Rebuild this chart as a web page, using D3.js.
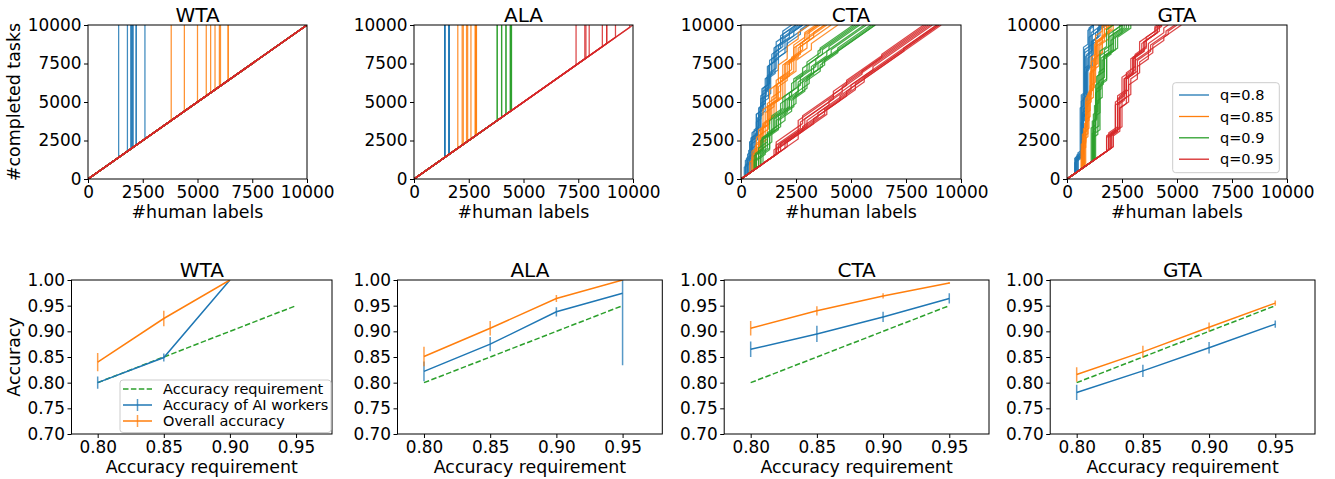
<!DOCTYPE html>
<html><head><meta charset="utf-8">
<script src="https://cdn.jsdelivr.net/npm/d3@7"></script>
<style>body{margin:0;background:#fff}svg{display:block;font-family:"DejaVu Sans",sans-serif}</style>
</head><body><svg id="c" width="1335" height="479"></svg>
<script>
// ---------------- DATA ----------------
const panelTitles = ["WTA", "ALA", "CTA", "GTA"];
const qLabels = ["q=0.8", "q=0.85", "q=0.9", "q=0.95"];
const seriesColors = ["#1f77b4", "#ff7f0e", "#2ca02c", "#d62728"];
const topTicks = [0, 2500, 5000, 7500, 10000];
const botXTicks = [0.80, 0.85, 0.90, 0.95];
const botYTicks = [0.70, 0.75, 0.80, 0.85, 0.90, 0.95, 1.00];

// WTA / ALA: #human labels at which the AI workers take over all remaining tasks (10000 = never)
const wtaSwitchBlue   = [1400, 1800, 1950, 2000, 2000, 2050, 2050, 2200, 2200, 2600];
const wtaSwitchOrange = [3800, 4400, 5000, 5400, 5600, 5800, 6000, 6050, 6400, 6400];
const wtaSwitchGreen  = [10000, 10000, 10000, 10000, 10000, 10000, 10000, 10000, 10000, 10000];
const wtaSwitchRed    = [10000, 10000, 10000, 10000, 10000, 10000, 10000, 10000, 10000, 10000];
const alaSwitchBlue   = [1400, 1400, 1400, 1400, 1400, 1400, 1600, 1600, 1600, 1600];
const alaSwitchOrange = [2000, 2200, 2250, 2400, 2450, 2600, 2800, 2800, 2850, 2850];
const alaSwitchGreen  = [3800, 3800, 4000, 4000, 4200, 4200, 4400, 4400, 4450, 4450];
const alaSwitchRed    = [7400, 7800, 7850, 8000, 8600, 8800, 8800, 9200, 9850, 10000];

// CTA / GTA: each run = list of [#human labels, tasks completed by AI in one jump]
const ctaBlue = [
  [[200,1000],[450,1200],[700,1300],[950,1400],[1200,1200],[1500,900],[1800,500]],
  [[300,1300],[500,900],[800,1600],[1100,1100],[1300,1200],[1700,800],[2000,300]],
  [[400,2000],[700,1000],[900,1500],[1200,1000],[1500,1200],[1900,500]],
  [[250,1100],[600,1500],[850,1200],[1100,1600],[1400,1000],[1600,900],[1900,400]],
  [[350,1500],[650,800],[900,1700],[1250,1300],[1550,900],[2000,700],[2400,300]],
  [[200,700],[500,1800],[800,1000],[1000,1400],[1300,1500],[1700,600],[2200,400]],
  [[450,1800],[750,1400],[1000,1000],[1350,1200],[1700,800],[2100,500],[2700,300]],
  [[300,900],[550,1600],[900,1800],[1150,1100],[1400,1300],[1800,600]],
  [[500,2100],[800,1200],[1100,1300],[1300,1000],[1600,900],[2100,400]],
  [[150,600],[400,1400],[700,1500],[1000,1200],[1250,1400],[1550,900],[1900,500]]
];
const ctaOrange = [
  [[600,1200],[900,1100],[1200,1200],[1600,1000],[2000,900],[2500,700],[3000,300]],
  [[500,900],[800,1500],[1100,800],[1500,1300],[1900,1000],[2400,600],[2900,400]],
  [[700,1600],[1000,900],[1400,1400],[1800,900],[2300,800],[2800,500]],
  [[400,700],[700,1300],[1000,1500],[1300,1000],[1700,1200],[2100,800],[2600,400]],
  [[800,1400],[1200,1200],[1600,800],[2000,1100],[2500,700],[3200,400]],
  [[600,1000],[950,1300],[1300,1100],[1700,900],[2100,1000],[2600,600],[3100,300]],
  [[500,1300],[900,1000],[1200,1400],[1600,1100],[2000,700],[2400,800],[2900,300]],
  [[700,1000],[1100,1600],[1500,800],[1900,1200],[2400,900],[3000,400]],
  [[550,1100],[850,900],[1250,1500],[1650,1000],[2200,900],[2700,500],[3300,300]],
  [[650,1500],[1000,1100],[1350,900],[1800,1200],[2200,800],[2700,600],[3100,400]]
];
const ctaGreen = [
  [[700,900],[1000,700],[1500,800],[2000,700],[2600,600],[3200,400],[3900,300]],
  [[600,600],[900,1000],[1300,900],[1800,600],[2300,800],[2800,500],[3500,400]],
  [[800,1200],[1200,600],[1600,700],[2200,900],[2700,500],[3400,500],[4000,200]],
  [[900,700],[1300,900],[1700,500],[2300,700],[2900,600],[3600,400],[4400,300]],
  [[600,900],[1000,800],[1400,1000],[1900,700],[2400,700],[3000,500],[3600,300]],
  [[1000,1000],[1400,800],[2000,600],[2500,700],[3100,500],[3800,300]],
  [[700,500],[1100,1100],[1600,600],[2100,800],[2600,500],[3300,500],[4100,300]],
  [[800,800],[1200,700],[1700,900],[2200,500],[2800,700],[3500,400]],
  [[650,1000],[950,700],[1500,900],[2000,800],[2500,600],[3100,400],[3700,300]],
  [[900,600],[1300,1000],[1800,700],[2400,600],[3000,700],[3700,300]]
];
const ctaRed = [
  [[1600,800],[2800,500],[4800,300]],
  [[1600,600],[2700,400],[4200,300],[5500,200]],
  [[1700,500],[2900,500],[4600,400]],
  [[1500,400],[3000,400],[4000,300],[6000,200]],
  [[1800,500],[3500,300],[5000,300]],
  [[1600,300],[2800,300],[4500,300],[7400,200]],
  [[2000,400],[3800,300],[5600,300]],
  [[1700,300],[3300,300],[4800,300]],
  [[2600,1200],[4200,300],[6400,200]],
  [[2100,300],[3900,300],[5200,400]]
];
const gtaBlue = [
  [[400,900],[650,3500],[800,3200],[1000,1200]],
  [[450,800],[700,2800],[850,2500],[1000,1500],[1300,600]],
  [[400,1000],[600,3000],[750,3800],[950,900],[1200,400]],
  [[350,700],[700,2600],[900,3000],[1100,1500],[1400,600]],
  [[500,1200],[750,3300],[900,2700],[1150,1000],[1450,400]],
  [[400,800],[650,2200],[800,3400],[1000,1800],[1200,700]],
  [[450,1100],[700,3600],[850,2400],[1100,1300],[1500,400]],
  [[400,900],[750,2900],[950,3100],[1200,900],[1500,500]],
  [[500,800],[650,4000],[800,2600],[1050,1400]],
  [[350,1000],[700,2400],[900,2800],[1150,1600],[1400,500]]
];
const gtaOrange = [
  [[750,2500],[900,2000],[1100,2300],[1300,1200],[1600,700]],
  [[700,1500],[850,2600],[1050,1800],[1250,1600],[1600,800],[1900,300]],
  [[800,2800],[1000,1800],[1200,2000],[1500,1000],[1900,500]],
  [[650,1200],[850,2200],[1050,2400],[1300,1500],[1700,700],[2100,200]],
  [[750,2000],[950,2600],[1150,1500],[1400,1400],[1800,600]],
  [[700,2200],[900,1700],[1100,2600],[1350,1100],[1700,600],[2200,200]],
  [[850,3000],[1050,2000],[1300,1600],[1600,1100],[2000,300]],
  [[700,1800],[950,2300],[1200,1800],[1450,1300],[1900,700]],
  [[800,2300],[1000,2400],[1250,1900],[1600,1000],[2100,300]],
  [[650,1600],[850,2800],[1100,1700],[1350,1500],[1800,800],[2300,200]]
];
const gtaGreen = [
  [[1200,2500],[1350,2800],[1500,1500],[1800,1100],[2200,600],[2600,300]],
  [[1150,1800],[1300,2500],[1550,2000],[1900,1000],[2400,700],[2900,300]],
  [[1250,3500],[1450,2000],[1700,1200],[2100,800],[2600,500]],
  [[1200,1500],[1400,2200],[1600,2400],[2000,900],[2500,600],[3000,300]],
  [[1100,2200],[1300,2600],[1500,1700],[1900,1000],[2400,500],[3000,200]],
  [[1300,2800],[1500,1800],[1800,1600],[2200,800],[2800,400]],
  [[1200,2000],[1450,2900],[1700,1300],[2100,900],[2700,500],[3200,200]],
  [[1150,2600],[1350,1900],[1650,1800],[2000,1000],[2500,600],[3000,300]],
  [[1250,1700],[1500,3000],[1800,1500],[2300,700],[2900,400],[3300,200]],
  [[1200,3000],[1400,2300],[1700,1000],[2100,900],[2600,500],[3100,300]]
];
const gtaRed = [
  [[1900,900],[2300,2200],[2700,900],[3100,900],[3600,500],[4100,300]],
  [[2000,800],[2300,1800],[2700,1200],[3000,1000],[3500,600],[4200,300]],
  [[1800,1000],[2200,1600],[2500,1500],[2900,800],[3300,700],[4000,300]],
  [[2100,700],[2400,1500],[2800,1100],[3200,800],[3700,500],[4400,200]],
  [[1900,1100],[2300,1400],[2600,1400],[3000,900],[3500,600],[4100,400]],
  [[2000,1000],[2400,2000],[2800,800],[3200,700],[3800,400],[4500,200]],
  [[1800,900],[2200,1900],[2600,1100],[3000,1000],[3400,500],[4000,400]],
  [[2100,900],[2500,1700],[2900,1000],[3300,700],[3900,500],[4600,200]],
  [[1900,800],[2300,2100],[2700,1300],[3100,800],[3600,600],[4300,300]],
  [[2000,900],[2400,1300],[2700,1600],[3100,800],[3700,500],[4400,300]]
];

// Bottom row: accuracy vs requirement
const accRequirement = [0.80, 0.85, 0.90, 0.95];
const wtaAI = [0.800, 0.849, 1.000],        wtaAIErr = [0.012, 0.008, 0];
const wtaAll = [0.840, 0.925, 1.000],       wtaAllErr = [0.018, 0.015, 0];
const alaAI = [0.822, 0.875, 0.938, 0.974], alaAIErr = [0.019, 0.014, 0.009, 0.140];
const alaAll = [0.851, 0.906, 0.964, 1.000],alaAllErr = [0.019, 0.014, 0.007, 0];
const ctaAI = [0.865, 0.895, 0.928, 0.964], ctaAIErr = [0.015, 0.016, 0.010, 0.010];
const ctaAll = [0.906, 0.940, 0.969, 0.994],ctaAllErr = [0.014, 0.009, 0.005, 0.002];
const gtaAI = [0.781, 0.823, 0.868, 0.914], gtaAIErr = [0.015, 0.012, 0.011, 0.007];
const gtaAll = [0.816, 0.860, 0.908, 0.955],gtaAllErr = [0.014, 0.012, 0.009, 0.005];
const botLegendLabels = ["Accuracy requirement", "Accuracy of AI workers", "Overall accuracy"];

// ---------------- BUILD ----------------
const toRuns = sw => sw.map(x0 => x0 >= 10000 ? [] : [[x0, 10000 - x0]]);
const topRuns = [
  [toRuns(wtaSwitchBlue), toRuns(wtaSwitchOrange), toRuns(wtaSwitchGreen), toRuns(wtaSwitchRed)],
  [toRuns(alaSwitchBlue), toRuns(alaSwitchOrange), toRuns(alaSwitchGreen), toRuns(alaSwitchRed)],
  [ctaBlue, ctaOrange, ctaGreen, ctaRed],
  [gtaBlue, gtaOrange, gtaGreen, gtaRed]
];
const botData = [
  {ai: wtaAI, aiErr: wtaAIErr, all: wtaAll, allErr: wtaAllErr},
  {ai: alaAI, aiErr: alaAIErr, all: alaAll, allErr: alaAllErr},
  {ai: ctaAI, aiErr: ctaAIErr, all: ctaAll, allErr: ctaAllErr},
  {ai: gtaAI, aiErr: gtaAIErr, all: gtaAll, allErr: gtaAllErr}
];

function runPath(jumps) {
  let cx = 0, cy = 0; const pts = [[0, 0]];
  for (const [x, dy] of jumps) {
    if (cy >= 10000) break;
    cy += x - cx; cx = x; pts.push([cx, cy]);
    cy += dy; pts.push([cx, cy]);
  }
  if (cy < 10000) { cx += 10000 - cy; cy = 10000; pts.push([cx, cy]); }
  return pts;
}

const FS = 16.9, LFS = 17.4;
const svg = d3.select("#c");
svg.append("rect").attr("width", 1335).attr("height", 479).attr("fill", "#fff");
const defs = svg.append("defs");

function styleAxis(g) {
  g.attr("font-family", "DejaVu Sans").attr("font-size", FS);
  g.select(".domain").remove();
  g.selectAll(".tick line").attr("stroke", "#000").attr("stroke-width", 1);
  g.selectAll(".tick text").attr("fill", "#000").style("font-size", FS + "px")
    .style("font-family", '"DejaVu Sans", sans-serif');
}

// ---- top row ----
const topBoxes = [{l: 88, r: 307}, {l: 414, r: 633}, {l: 741, r: 961}, {l: 1067, r: 1287}];
const TT = 25, TB = 179;
topBoxes.forEach((b, i) => {
  const x = d3.scaleLinear().domain([0, 10000]).range([b.l, b.r]);
  const y = d3.scaleLinear().domain([0, 10000]).range([TB, TT]);
  defs.append("clipPath").attr("id", "ct" + i).append("rect")
    .attr("x", b.l).attr("y", TT).attr("width", b.r - b.l).attr("height", TB - TT);
  const line = d3.line().x(d => x(d[0])).y(d => y(d[1]));
  const g = svg.append("g").attr("clip-path", `url(#ct${i})`);
  topRuns[i].forEach((runs, c) => {
    runs.forEach(run => {
      g.append("path").attr("d", line(runPath(run))).attr("fill", "none")
        .attr("stroke", seriesColors[c]).attr("stroke-width", 1.25).attr("stroke-opacity", 0.85);
    });
  });
  svg.append("rect").attr("x", b.l).attr("y", TT).attr("width", b.r - b.l).attr("height", TB - TT)
    .attr("fill", "none").attr("stroke", "#000").attr("stroke-width", 1);
  svg.append("g").attr("transform", `translate(0,${TB})`)
    .call(d3.axisBottom(x).tickValues(topTicks).tickFormat(d3.format("d")).tickSize(4).tickPadding(3.5).tickSizeOuter(0))
    .call(styleAxis);
  svg.append("g").attr("transform", `translate(${b.l},0)`)
    .call(d3.axisLeft(y).tickValues(topTicks).tickFormat(d3.format("d")).tickSize(4).tickPadding(2.5).tickSizeOuter(0))
    .call(styleAxis);
  svg.append("text").attr("x", (b.l + b.r) / 2).attr("y", 21.5).attr("text-anchor", "middle")
    .style("font-size", "20px").attr("fill", "#000").text(panelTitles[i]);
  svg.append("text").attr("x", (b.l + b.r) / 2).attr("y", 217.5).attr("text-anchor", "middle")
    .style("font-size", LFS + "px").attr("fill", "#000").text("#human labels");
});
svg.append("text").attr("transform", `translate(20,${(TT + TB) / 2}) rotate(-90)`).attr("text-anchor", "middle")
  .style("font-size", LFS + "px").attr("fill", "#000").text("#completed tasks");

// top legend (GTA)
{
  const lg = svg.append("g");
  lg.append("rect").attr("x", 1172.7).attr("y", 82.7).attr("width", 106.6).attr("height", 90).attr("rx", 3)
    .attr("fill", "#fff").attr("fill-opacity", 0.8).attr("stroke", "#ccc").attr("stroke-width", 1);
  const rows = [95, 116.5, 137.8, 159.2];
  qLabels.forEach((t, k) => {
    lg.append("line").attr("x1", 1179).attr("x2", 1209).attr("y1", rows[k]).attr("y2", rows[k])
      .attr("stroke", seriesColors[k]).attr("stroke-width", 1.3);
    lg.append("text").attr("x", 1220).attr("y", rows[k]).attr("dy", "0.36em")
      .style("font-size", "14.5px").attr("fill", "#000").text(t);
  });
}

// ---- bottom row ----
const botBoxes = [
  {l: 71.5, r: 332, dom: [0.7802, 0.9772]},
  {l: 397.5, r: 662.3, dom: [0.78, 0.98]},
  {l: 724.2, r: 989, dom: [0.78, 0.98]},
  {l: 1050.2, r: 1315, dom: [0.78, 0.98]}
];
const BT = 280, BB = 434;
const cBlue = seriesColors[0], cOrange = seriesColors[1], cGreen = seriesColors[2];
botBoxes.forEach((b, i) => {
  const x = d3.scaleLinear().domain(b.dom).range([b.l, b.r]);
  const y = d3.scaleLinear().domain([0.7, 1.0]).range([BB, BT]);
  defs.append("clipPath").attr("id", "cb" + i).append("rect")
    .attr("x", b.l).attr("y", BT).attr("width", b.r - b.l).attr("height", BB - BT);
  const g = svg.append("g").attr("clip-path", `url(#cb${i})`);
  const line = d3.line().x(d => x(d[0])).y(d => y(d[1]));
  const d = botData[i];
  g.append("path").attr("d", line(accRequirement.map(v => [v, v]))).attr("fill", "none")
    .attr("stroke", cGreen).attr("stroke-width", 1.5).attr("stroke-dasharray", "5.5,2.4");
  [[d.ai, d.aiErr, cBlue], [d.all, d.allErr, cOrange]].forEach(([vals, errs, col]) => {
    g.append("path").attr("d", line(vals.map((v, k) => [accRequirement[k], v]))).attr("fill", "none")
      .attr("stroke", col).attr("stroke-width", 1.5);
    vals.forEach((v, k) => {
      if (errs[k] > 0) g.append("line").attr("x1", x(accRequirement[k])).attr("x2", x(accRequirement[k]))
        .attr("y1", y(v - errs[k])).attr("y2", y(v + errs[k]))
        .attr("stroke", col).attr("stroke-width", 1.5).attr("stroke-opacity", 0.75);
    });
  });
  svg.append("rect").attr("x", b.l).attr("y", BT).attr("width", b.r - b.l).attr("height", BB - BT)
    .attr("fill", "none").attr("stroke", "#000").attr("stroke-width", 1);
  svg.append("g").attr("transform", `translate(0,${BB})`)
    .call(d3.axisBottom(x).tickValues(botXTicks).tickFormat(d3.format(".2f")).tickSize(4).tickPadding(3.5).tickSizeOuter(0))
    .call(styleAxis);
  svg.append("g").attr("transform", `translate(${b.l},0)`)
    .call(d3.axisLeft(y).tickValues(botYTicks).tickFormat(d3.format(".2f")).tickSize(4).tickPadding(2.5).tickSizeOuter(0))
    .call(styleAxis);
  svg.append("text").attr("x", (b.l + b.r) / 2).attr("y", 277).attr("text-anchor", "middle")
    .style("font-size", "20px").attr("fill", "#000").text(panelTitles[i]);
  svg.append("text").attr("x", (b.l + b.r) / 2).attr("y", 472.5).attr("text-anchor", "middle")
    .style("font-size", LFS + "px").attr("fill", "#000").text("Accuracy requirement");
});
svg.append("text").attr("transform", `translate(20,${(BT + BB) / 2}) rotate(-90)`).attr("text-anchor", "middle")
  .style("font-size", LFS + "px").attr("fill", "#000").text("Accuracy");

// bottom legend (WTA)
{
  const lg = svg.append("g");
  lg.append("rect").attr("x", 120).attr("y", 380).attr("width", 211).attr("height", 52.5).attr("rx", 3)
    .attr("fill", "#fff").attr("fill-opacity", 0.8).attr("stroke", "#ccc").attr("stroke-width", 1);
  const rows = [389, 405, 421];
  const cols = [cGreen, cBlue, cOrange];
  botLegendLabels.forEach((t, k) => {
    const ln = lg.append("line").attr("x1", 123).attr("x2", 152).attr("y1", rows[k]).attr("y2", rows[k])
      .attr("stroke", cols[k]).attr("stroke-width", 1.5);
    if (k === 0) ln.attr("stroke-dasharray", "5.5,2.4");
    else lg.append("line").attr("x1", 137.5).attr("x2", 137.5).attr("y1", rows[k] - 6).attr("y2", rows[k] + 6)
      .attr("stroke", cols[k]).attr("stroke-width", 1.5).attr("stroke-opacity", 0.75);
    lg.append("text").attr("x", 163).attr("y", rows[k]).attr("dy", "0.36em")
      .style("font-size", "14.5px").attr("fill", "#000").text(t);
  });
}
</script></body></html>
